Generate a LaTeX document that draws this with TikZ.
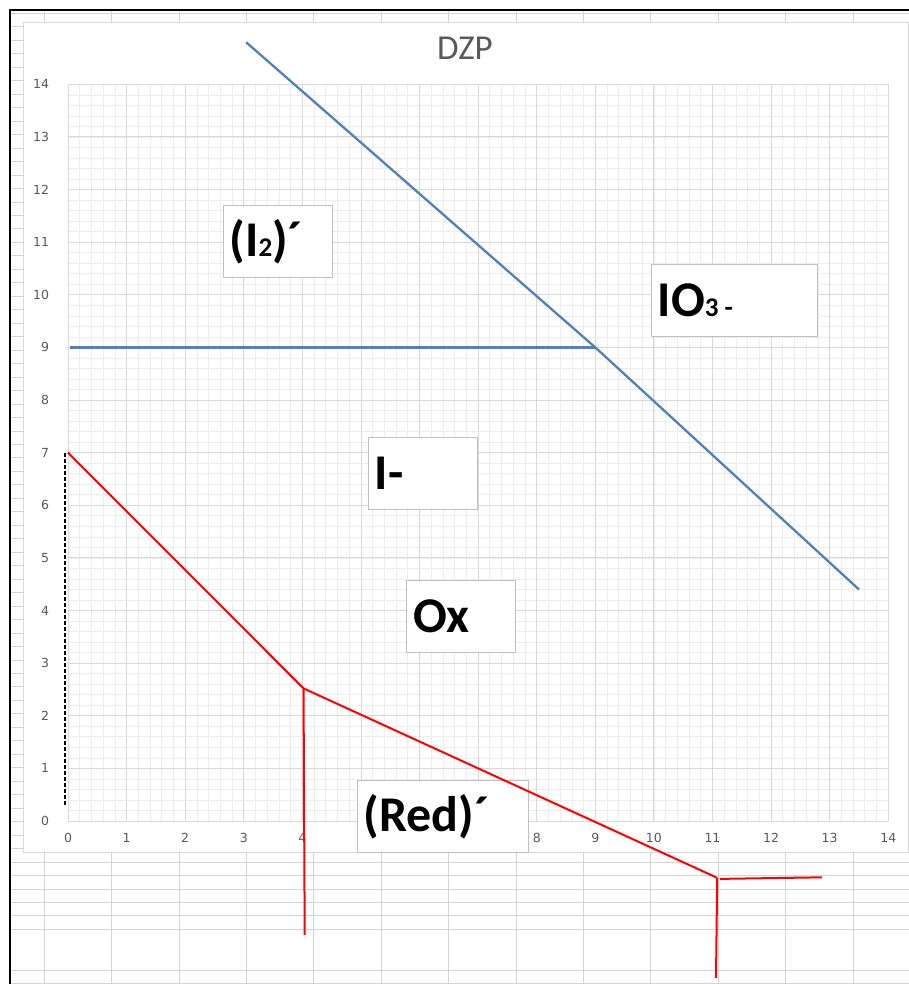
\documentclass[tikz,border=0pt]{standalone}
\usepackage{fontspec}
\setmainfont{Carlito}
\newfontfamily\tickfont{DejaVu Sans}

\definecolor{cellgray}{HTML}{D4D4D4}
\definecolor{majorgray}{HTML}{D9D9D9}
\definecolor{minorgray}{HTML}{EDEDED}
\definecolor{boxgray}{HTML}{C0C0C0}
\definecolor{tickgray}{HTML}{595959}
\definecolor{lineblue}{HTML}{4F81BD}

\begin{document}
\begin{tikzpicture}[
    x=1pt, y=-1pt,
    cellline/.style={draw=cellgray, line width=0.9pt},
    majorgrid/.style={draw=majorgray, line width=0.9pt},
    minorgrid/.style={draw=minorgray, line width=0.7pt},
    ticklabel/.style={text=tickgray, font=\tickfont\fontsize{12.5}{14}\selectfont, inner sep=0pt},
    region/.style={rectangle, draw=boxgray, fill=white, line width=1pt, anchor=north west, align=left, inner xsep=6.5pt, inner ysep=0pt, minimum height=72pt, font=\bfseries\fontsize{50}{56}\selectfont},
    bluepath/.style={draw=lineblue, line width=2.3pt, line join=round},
    redpath/.style={draw=red, line width=2pt, line join=round},
    dashline/.style={draw=black, line width=2.4pt, dash pattern=on 4pt off 2pt},
]

    % sheet with cells
    \useasboundingbox (0,0) rectangle (909,984);
    \fill[white] (0,0) rectangle (909,984);
    \foreach \k in {0,...,68}
      \draw[cellline] (10,{13.4+13.47*\k}) -- (909,{13.4+13.47*\k});
    \foreach \r in {970.3,983.7}
      \draw[cellline] (10,\r) -- (909,\r);
    \foreach \k in {0,...,12}
      \draw[cellline] ({44.3+67.4*\k},10) -- ({44.3+67.4*\k},984);
    \draw[black, line width=2.2pt] (10,984) -- (10,10) -- (909,10);

    % chart panel
    \node (panel) [draw=majorgray, fill=white, line width=0.9pt, inner sep=0pt,
      minimum width=885.6pt, minimum height=830pt, anchor=north west] at (22.7,21.7) {};
    \node (title) [text=tickgray, font=\fontsize{35}{40}\selectfont, anchor=base] at (465,59.5) {DZP};

    % plot area, in data units
    \begin{scope}[shift={(68,821)}, x=58.59pt, y=52.62pt]
      \draw[minorgrid, xstep=0.2, ystep=0.2] (0,0) grid (14,14);
      \draw[majorgrid, step=1] (0,0) grid (14,14);
      \foreach \v in {0,...,14}
        \node (ytick\v) [ticklabel, anchor=east] at (-0.32,\v) {\v};
      % 5, 6 and 7 lie under the (Red) box
      \foreach \v in {0,...,4,8,9,...,14}
        \node (xtick\v) [ticklabel] at (\v,-0.32) {\v};

      % points of the lines
      \coordinate (bluetop) at (3.04,14.8);
      \coordinate (blueleft) at (0.03,9);
      \coordinate (triple) at (9,9);
      \coordinate (blueend) at (13.5,4.4);
      \coordinate (redtop) at (0,7);
      \coordinate (kink) at (4.02,2.52);
      \coordinate (kinkfoot) at (4.04,-2.17);
      \coordinate (corner) at (11.08,-1.08);
      \coordinate (cornerfoot) at (11.06,-2.98);
      \coordinate (stepstart) at (11.13,-1.10);
      \coordinate (stepend) at (12.87,-1.07);
      \coordinate (dashtop) at (-0.05,7);
      \coordinate (dashfoot) at (-0.05,0.30);
    \end{scope}

    % region labels
    \node (iodine) [region, text width=96pt] at (222.7,205) {(I{\fontsize{27}{28}\selectfont 2})´};
    \node (iodate) [region, text width=153pt] at (650.7,264) {IO{\fontsize{27}{28}\selectfont 3\kern6pt-}};
    \node (iodide) [region, text width=96pt] at (367.7,437) {I-};
    \node (oxform) [region, text width=96pt] at (406,580) {Ox};
    \node (redform) [region, text width=158pt] at (356.7,780) {(Red)´};

    % lines
    \draw[bluepath] (blueleft) -- (triple);
    \draw[bluepath] (bluetop) -- (triple) -- (blueend);
    \draw[redpath] (redtop) -- (kink) -- (corner);
    \draw[redpath] (kink) -- (kinkfoot);
    \draw[redpath] (corner) -- (cornerfoot);
    \draw[redpath] (stepstart) -- (stepend);
    \draw[dashline] (dashtop) -- (dashfoot);

\end{tikzpicture}
\end{document}
